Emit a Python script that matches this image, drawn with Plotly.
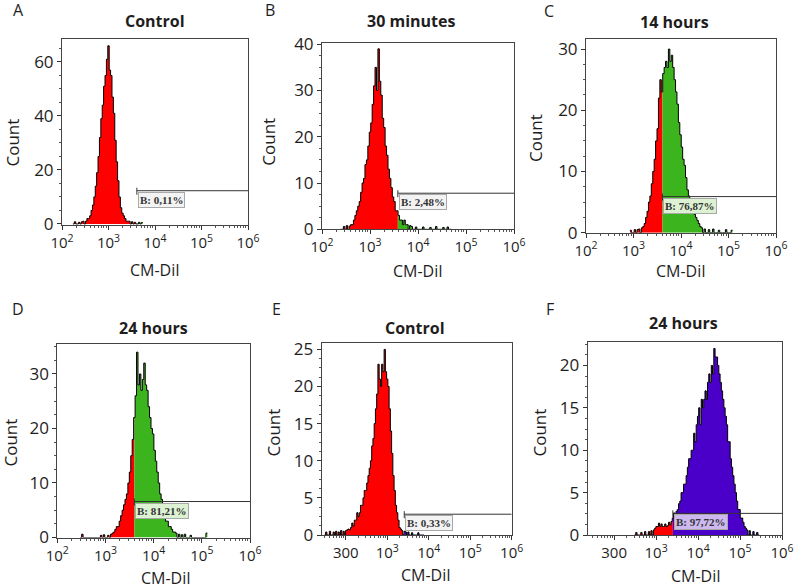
import plotly.graph_objects as go

W, H = 796, 588
STEP = 0.03  # histogram bin width, in decades

# ---------------- data ----------------
panel_letters = ["A", "B", "C", "D", "E", "F"]
panel_titles = ["Control", "30 minutes", "14 hours", "24 hours", "Control", "24 hours"]
gate_labels = ["B: 0,11%", "B: 2,48%", "B: 76,87%", "B: 81,21%", "B: 0,33%", "B: 97,72%"]
gate_log = [3.61, 3.58, 3.61, 3.60, 3.41, 3.40]        # log10 of gate start (CM-DiI)
gate_count = [12.3, 7.8, 5.9, 6.6, 2.8, 2.55]          # gate marker height (Count)

# first bin centre (log10 CM-DiI) and counts per bin
A_start = 2.25
A_counts = [0, 0.8, 0, 0, 0.6, 0, 0.8, 1, 0, 1, 2, 2, 3, 5, 7, 10, 14, 19, 25, 32,
            39, 44, 51, 55, 61, 66, 57, 55, 47, 41, 31, 23, 16, 10, 6, 4, 3, 2, 1, 1,
            1, 0, 0.8, 0, 0.6, 0, 0, 0.6, 0, 0.5]
B_start = 2.40
B_counts = [0, 0, 0.6, 0, 0.8, 0, 0.7, 1, 1, 2, 3, 4, 5, 6, 8, 10, 11, 14, 15, 18,
            21, 23, 27, 31, 35, 30, 39, 32, 29, 24, 22, 18, 16, 13, 11, 9, 7, 6, 4, 4,
            3, 2, 2, 1, 2, 1, 1, 0, 0.8, 0.6, 0, 0, 0.5, 0, 0, 0, 0, 0.5, 0, 0,
            0, 0, 0.4, 0, 0, 0, 0.6, 0, 0, 0, 0, 0.4, 0, 0, 0.5, 0, 0]
C_start = 2.94
C_counts = [0.4, 0, 0, 0.5, 0, 0.5, 0.6, 0, 0.8, 1, 1.5, 2.5, 3.5, 5, 6, 8, 10, 12, 15, 17,
            22, 25, 23, 26, 27, 28, 27, 30, 28, 29, 27, 25, 23, 21, 18, 16, 14, 12, 11, 9,
            7, 6, 5, 4, 3.5, 3, 2.5, 2, 1.5, 1, 0.8, 0, 0.6, 0, 0, 0.5, 0, 0, 0.6, 0,
            0, 0, 0.4, 0, 0, 0, 0, 0.5, 0, 0, 0, 0.4]
D_start = 2.49
D_counts = [0, 0.6, 0, 0, 0, 0, 0, 0, 0, 0, 0, 0, 0, 0, 0.4, 0,
            0.5, 0, 0, 0.4, 0, 0.6, 0.8, 1, 1.5, 2, 2, 3, 4, 5, 6, 7, 8, 10, 12, 15,
            18, 22, 26, 34, 28, 30, 27, 29, 32, 28, 27, 24, 22, 20, 19, 16, 14, 12, 10, 8,
            7, 5, 4, 3, 3, 2, 2, 1.5, 1, 1, 0.8, 0, 0.6, 0, 0.5, 0, 0.6, 0, 0, 0,
            0.4, 0, 0, 0, 0, 0, 0, 0, 0, 0, 0, 0.8]
E_start = 1.50
E_counts = [0, 0.4, 0, 0, 0.5, 0, 0, 0.4, 0, 0.5, 0, 0.4, 0, 0.6, 0, 0.5, 0, 0.6, 0.7, 0.8,
            0.7, 1, 1.6, 1.2, 2, 2, 3, 2.5, 3, 4, 4, 5, 6, 6, 7, 8, 9, 10, 12, 13,
            15, 17, 19, 23, 21, 20, 23, 22, 25, 22, 21, 20, 17, 14, 11, 8, 6, 4, 3, 2,
            1, 0.8, 0.6, 0, 0.5, 0.4, 0, 0.4, 0, 0, 0.3, 0, 0, 0, 0, 0.3, 0, 0, 0, 0]
F_start = 2.50
F_counts = [0, 0.3, 0, 0, 0, 0.3, 0, 0, 0.4, 0, 0, 0.4, 0, 0.5, 0, 0.6, 0.8, 1, 1, 1.4,
            1, 1.3, 1, 1, 1.3, 1, 1.1, 1.5, 1.2, 1.6, 2, 2.6, 2.2, 2.8, 3, 3.7, 4, 5, 5, 6,
            6, 7, 8, 9, 9, 10, 10, 12, 11, 13, 14, 15, 13, 16, 15, 16, 17, 16, 18, 19,
            18, 20, 19, 22, 21, 21, 20, 19, 18, 17, 16, 15, 14, 13, 11, 11, 9, 8, 7, 6,
            5, 4, 3, 3, 2, 2, 1.5, 1, 0.8, 0.6, 0, 0.5, 0, 0, 0.4, 0, 0, 0.3, 0]

starts = [A_start, B_start, C_start, D_start, E_start, F_start]
counts = [A_counts, B_counts, C_counts, D_counts, E_counts, F_counts]

x_tickvals = [1e2, 1e3, 1e4, 1e5, 1e6]
x_ticktext_log = ["10<sup>2</sup>", "10<sup>3</sup>", "10<sup>4</sup>", "10<sup>5</sup>", "10<sup>6</sup>"]
x_ticktext_EF = ["300", "10<sup>3</sup>", "10<sup>4</sup>", "10<sup>5</sup>", "10<sup>6</sup>"]
x_ticktexts = [x_ticktext_log] * 4 + [x_ticktext_EF] * 2
y_tickvals = [[0, 20, 40, 60], [0, 10, 20, 30, 40], [0, 10, 20, 30],
              [0, 10, 20, 30], [0, 5, 10, 15, 20, 25], [0, 5, 10, 15, 20]]
x_title = "CM-DiI"
y_title = "Count"

# ---------------- layout / style ----------------
# plot boxes in pixels: (left, right, top, bottom)
boxes = [(62, 248, 39.3, 225), (322, 514, 43.3, 229.3), (586, 776, 39.3, 232.7),
         (57.3, 250, 344, 537.5), (321.7, 511.7, 342.7, 535), (587.7, 782, 341.7, 535)]
x_ranges = [[2, 6], [2, 6], [2, 6], [2, 6], [1.42, 6], [1.37, 6]]
y_ranges = [[-0.4, 68.4], [0, 40.2], [0, 31.6], [0, 35.5], [0, 25.9], [0, 22.8]]
letter_pos = [(18, 10), (270, 10), (548.5, 11), (17.5, 308.5), (276.7, 308.5), (550, 309)]
title_pos = [(155.3, 21), (410.8, 21), (674, 22.5), (153.3, 327.5), (415.3, 327.5), (683.5, 323.3)]
ylab_pos = [(12.5, 142), (269, 141.7), (535, 138), (9.5, 443), (272.5, 433), (538.5, 433)]
xlab_pos = [(155, 270), (418, 271), (681, 271), (166, 578), (426, 575), (696, 576)]
gate_colors = ["#3CB41E", "#3CB41E", "#3CB41E", "#3CB41E", "#4A00C8", "#4A00C8"]
label_bg = ["#F3F3F3", "#F3F3F3", "#DDF2D2", "#DDF2D2", "#F3F3F3", "#CDB9F0"]
RED = "#FF0000"
FONT = "Open Sans"
TXT = "#1E1E1E"


def step_xy(start, cnts, lo, hi):
    xs, ys = [], []
    last_r = None
    for i, c in enumerate(cnts):
        l = start - STEP / 2 + i * STEP
        r = l + STEP
        if r <= lo or l >= hi:
            continue
        xs.append(10 ** max(l, lo))
        ys.append(c)
        last_r = min(r, hi)
    if xs:
        xs.append(10 ** last_r)
        ys.append(ys[-1])
    return xs, ys


fig = go.Figure()
annotations = []
layout = dict(width=W, height=H,
              margin=dict(l=0, r=0, t=0, b=0, pad=0, autoexpand=False), autosize=False,
              paper_bgcolor="white", plot_bgcolor="white", showlegend=False)

for k in range(6):
    n = "" if k == 0 else str(k + 1)
    xa, ya = "x" + n, "y" + n
    left, right, top, bottom = boxes[k]
    st, cn = starts[k], counts[k]
    lo_all = -10
    hi_all = 10
    g = gate_log[k]
    # red part (below gate)
    xs, ys = step_xy(st, cn, lo_all, g)
    fig.add_trace(go.Scatter(x=xs, y=ys, mode="lines", line=dict(width=0, shape="hv"),
                             fill="tozeroy", fillcolor=RED, xaxis=xa, yaxis=ya,
                             hoverinfo="skip"))
    # gated part
    xs, ys = step_xy(st, cn, g, hi_all)
    fig.add_trace(go.Scatter(x=xs, y=ys, mode="lines", line=dict(width=0, shape="hv"),
                             fill="tozeroy", fillcolor=gate_colors[k], xaxis=xa, yaxis=ya,
                             hoverinfo="skip"))
    # outline
    xs, ys = step_xy(st, cn, lo_all, hi_all)
    fig.add_trace(go.Scatter(x=xs, y=ys, mode="lines",
                             line=dict(width=1, color="black", shape="hv"),
                             xaxis=xa, yaxis=ya, hoverinfo="skip"))
    # gate marker
    ph = bottom - top
    per_px = (y_ranges[k][1] - y_ranges[k][0]) / ph
    gy = gate_count[k]
    fig.add_trace(go.Scatter(x=[10 ** g, 10 ** x_ranges[k][1]], y=[gy, gy], mode="lines",
                             line=dict(width=1, color="#333333"), xaxis=xa, yaxis=ya,
                             hoverinfo="skip"))
    fig.add_trace(go.Scatter(x=[10 ** g, 10 ** g], y=[gy + 3 * per_px, gy - 4 * per_px],
                             mode="lines", line=dict(width=1, color="#333333"),
                             xaxis=xa, yaxis=ya, hoverinfo="skip"))
    annotations.append(dict(x=g, y=gy, xref=xa, yref=ya, xanchor="left", yanchor="top",
                            xshift=1, yshift=-1, showarrow=False,
                            text="<b>" + gate_labels[k] + "</b>",
                            font=dict(family="Liberation Serif", size=11, color="#333333"),
                            bgcolor=label_bg[k], bordercolor="#A8A8A8", borderwidth=1,
                            borderpad=1))

    ydt = y_tickvals[k][1] - y_tickvals[k][0]
    layout["xaxis" + n] = dict(
        type="log", range=x_ranges[k], domain=[left / W, right / W],
        anchor=ya, tickvals=x_tickvals, ticktext=x_ticktexts[k], automargin=False,
        ticks="outside", ticklen=4, tickcolor="#333", showline=True, mirror=True,
        linecolor="#444", linewidth=1, showgrid=False, zeroline=False,
        tickfont=dict(family=FONT, size=15, color=TXT),
        minor=dict(dtick="D1", ticks="outside", ticklen=2, tickcolor="#555", showgrid=False))
    layout["yaxis" + n] = dict(
        range=y_ranges[k], domain=[1 - bottom / H, 1 - top / H], anchor=xa, automargin=False,
        tickvals=y_tickvals[k], ticks="outside", ticklen=4, tickcolor="#333",
        showline=True, mirror=True, linecolor="#444", linewidth=1,
        showgrid=False, zeroline=False,
        tickfont=dict(family=FONT, size=17, color=TXT),
        minor=dict(dtick=ydt / 4, ticks="outside", ticklen=2, tickcolor="#555", showgrid=False))

    lx, ly = letter_pos[k]
    annotations.append(dict(x=lx / W, y=1 - ly / H, xref="paper", yref="paper",
                            text=panel_letters[k], showarrow=False, xanchor="center",
                            yanchor="middle", font=dict(family=FONT, size=16, color=TXT)))
    tx, ty = title_pos[k]
    annotations.append(dict(x=tx / W, y=1 - ty / H, xref="paper", yref="paper",
                            text="<b>" + panel_titles[k] + "</b>", showarrow=False,
                            xanchor="center", yanchor="middle",
                            font=dict(family=FONT, size=16, color=TXT)))
    cx, cy = ylab_pos[k]
    annotations.append(dict(x=cx / W, y=1 - cy / H, xref="paper", yref="paper",
                            text=y_title, showarrow=False, textangle=-90,
                            xanchor="center", yanchor="middle",
                            font=dict(family=FONT, size=17, color=TXT)))
    mx, my = xlab_pos[k]
    annotations.append(dict(x=mx / W, y=1 - my / H, xref="paper", yref="paper",
                            text=x_title, showarrow=False, xanchor="center",
                            yanchor="middle", font=dict(family=FONT, size=16, color=TXT)))

layout["annotations"] = annotations
fig.update_layout(**layout)
fig.write_html("out.html", config={"displayModeBar": False},
               post_script="document.body.style.margin='0px';"
                           "document.body.style.overflow='hidden';")
